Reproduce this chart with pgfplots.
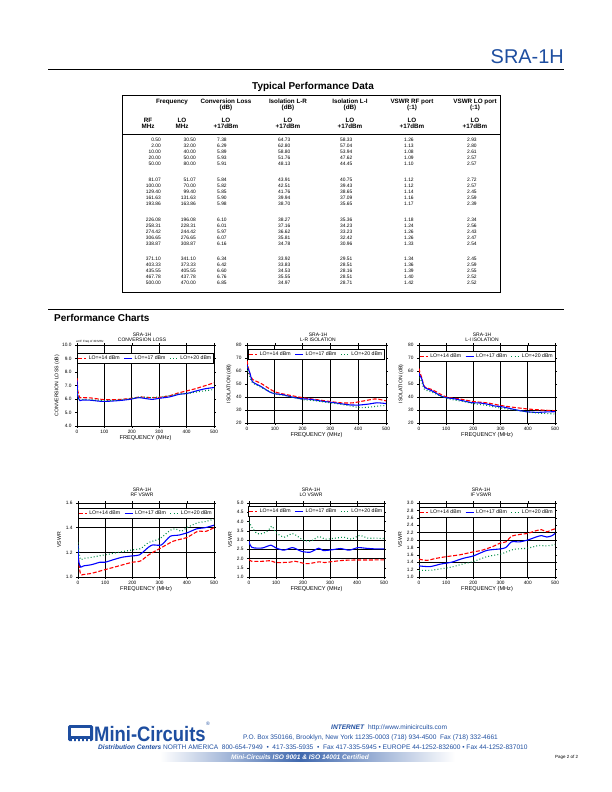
\documentclass[border=0pt]{standalone}
\usepackage{pgfplots}
\pgfplotsset{compat=1.18}
\usepackage{fontspec}
\setmainfont{Liberation Sans}
\definecolor{mcblue}{RGB}{30,78,160}
\definecolor{lored}{RGB}{255,0,0}
\definecolor{loblue}{RGB}{0,0,255}
\definecolor{logreen}{RGB}{0,140,70}
\newcommand{\fs}[1]{\fontsize{#1}{#1}\selectfont}
\newcommand{\trow}[8]{%
  \node[anchor=base east,inner sep=0] at (161bp,-#1bp) {#2};
  \node[anchor=base east,inner sep=0] at (196bp,-#1bp) {#3};
  \node[anchor=base west,inner sep=0] at (217bp,-#1bp) {#4};
  \node[anchor=base west,inner sep=0] at (278bp,-#1bp) {#5};
  \node[anchor=base west,inner sep=0] at (340bp,-#1bp) {#6};
  \node[anchor=base west,inner sep=0] at (404bp,-#1bp) {#7};
  \node[anchor=base west,inner sep=0] at (467bp,-#1bp) {#8};}
\pgfplotsset{
  mc/.style={
    scale only axis,
    anchor=north west,
    xmin=0,xmax=500,
    xtick={0,100,...,500},
    xmajorgrids=true, ymajorgrids=false,
    major grid style={black,line width=0.9pt},
    axis line style={black, line width=0.6pt},
    tick style={black, line width=0.4pt},
    tick align=outside,
    major tick length=2pt,
    /pgf/number format/assume math mode=true,
    tick label style={font=\fs{4.8}},
    xticklabel style={yshift=1pt},
    xlabel={FREQUENCY (MHz)},
    xlabel style={font=\fs{5.6}, yshift=5pt},
    ylabel style={font=\fs{5.2}, yshift=-4pt},
    extra y tick style={ymajorgrids=true, major tick length=0pt, yticklabels={}},
    legend style={at={(0.5,0.93)}, anchor=north, legend columns=3, font=\fs{5.2}, draw=black, line width=0.6pt, fill=white, inner sep=0.4pt, /tikz/every even column/.append style={column sep=2pt}},
    legend image code/.code={\draw[#1] (0pt,0pt) -- (8pt,0pt);},
    every axis plot/.append style={line width=1.1pt, smooth, tension=0.4},
  },
  r14/.style={lored, dash pattern=on 4pt off 1.8pt},
  b17/.style={loblue},
  g20/.style={logreen, dash pattern=on 0.9pt off 2.2pt},
  onedec/.style={yticklabel style={/pgf/number format/.cd, fixed, fixed zerofill, precision=1}},
}
\begin{document}
\begin{tikzpicture}
\fill[white] (0,0) rectangle (612bp,-792bp);
\path[use as bounding box] (0,0) rectangle (612bp,-792bp);
% header
\node[anchor=east, inner sep=0, text=mcblue] at (564bp,-57bp) {\fs{20}SRA-1H};
\draw[line width=0.9pt] (48bp,-69bp) -- (564bp,-69bp);
\node[inner sep=0] at (313bp,-87bp) {\fs{10}\bfseries Typical Performance Data};
% table
\draw[line width=0.8pt] (122bp,-95bp) rectangle (500bp,-292bp);
\draw[line width=0.4pt] (122bp,-134bp) -- (500bp,-134bp);
\begin{scope}[every node/.style={inner sep=0, font=\fs{6.3}\bfseries, align=center}]
\node at (172bp,-102bp) {Frequency};
\node at (226bp,-105bp) {Conversion Loss\\[-0.4pt](dB)};
\node at (288bp,-105bp) {Isolation L-R\\[-0.4pt](dB)};
\node at (350bp,-105bp) {Isolation L-I\\[-0.4pt](dB)};
\node at (412bp,-105bp) {VSWR RF port\\[-0.4pt](:1)};
\node at (475bp,-105bp) {VSWR LO port\\[-0.4pt](:1)};
\node at (148bp,-123bp) {RF\\[-0.4pt]MHz};
\node at (182bp,-123bp) {LO\\[-0.4pt]MHz};
\node at (226bp,-123bp) {LO\\[-0.4pt]+17dBm};
\node at (288bp,-123bp) {LO\\[-0.4pt]+17dBm};
\node at (350bp,-123bp) {LO\\[-0.4pt]+17dBm};
\node at (412bp,-123bp) {LO\\[-0.4pt]+17dBm};
\node at (475bp,-123bp) {LO\\[-0.4pt]+17dBm};
\end{scope}
\begin{scope}[every node/.style={font=\fs{4.9}}]
\trow{141.6}{0.50}{30.50}{7.38}{64.73}{58.33}{1.26}{2.93}
\trow{147.6}{2.00}{32.00}{6.29}{62.80}{57.04}{1.13}{2.80}
\trow{153.6}{10.00}{40.00}{5.89}{58.80}{53.94}{1.08}{2.61}
\trow{159.6}{20.00}{50.00}{5.93}{51.76}{47.62}{1.09}{2.57}
\trow{165.6}{50.00}{80.00}{5.91}{48.13}{44.45}{1.10}{2.57}
\trow{181.3}{81.07}{51.07}{5.84}{43.91}{40.75}{1.12}{2.72}
\trow{187.3}{100.00}{70.00}{5.82}{42.51}{39.43}{1.12}{2.57}
\trow{193.3}{129.40}{99.40}{5.85}{41.76}{38.65}{1.14}{2.45}
\trow{199.3}{161.63}{131.63}{5.90}{39.94}{37.09}{1.16}{2.59}
\trow{205.3}{193.86}{163.86}{5.98}{38.70}{35.65}{1.17}{2.39}
\trow{221.0}{226.08}{196.08}{6.10}{38.27}{35.36}{1.18}{2.34}
\trow{227.0}{258.31}{228.31}{6.01}{37.16}{34.23}{1.24}{2.56}
\trow{233.0}{274.42}{244.42}{5.97}{36.62}{33.23}{1.26}{2.43}
\trow{239.0}{306.65}{276.65}{6.07}{35.81}{32.42}{1.26}{2.47}
\trow{245.0}{338.87}{308.87}{6.16}{34.78}{30.96}{1.33}{2.54}
\trow{260.6}{371.10}{341.10}{6.34}{33.92}{29.51}{1.34}{2.45}
\trow{266.6}{403.33}{373.33}{6.42}{33.83}{28.51}{1.36}{2.59}
\trow{272.6}{435.55}{405.55}{6.60}{34.53}{28.16}{1.39}{2.55}
\trow{278.6}{467.78}{437.78}{6.76}{35.55}{28.51}{1.40}{2.52}
\trow{284.6}{500.00}{470.00}{6.85}{34.97}{28.71}{1.42}{2.52}
\end{scope}
% performance charts header
\draw[line width=0.9pt] (48bp,-309bp) -- (564bp,-309bp);
\node[anchor=west, inner sep=0] at (54bp,-318bp) {\fs{10}\bfseries Performance Charts};
% chart titles
\begin{scope}[every node/.style={inner sep=0, font=\fs{5}, align=center}]
\node at (142bp,-337bp) {SRA-1H\\[-0.3pt]CONVERSION LOSS};
\node at (318bp,-337bp) {SRA-1H\\[-0.3pt]L-R ISOLATION};
\node at (482bp,-337bp) {SRA-1H\\[-0.3pt]L-I ISOLATION};
\node at (142bp,-492bp) {SRA-1H\\[-0.3pt]RF VSWR};
\node at (311bp,-492bp) {SRA-1H\\[-0.3pt]LO VSWR};
\node at (481bp,-492bp) {SRA-1H\\[-0.3pt]IF VSWR};
\node[anchor=west] at (76bp,-341.5bp) {\fs{3}at IF Freq of 30 MHz};
\end{scope}
% ---- chart 1
\begin{axis}[mc, onedec, at={(77bp,-345bp)}, width=137bp, height=81bp,
  ymin=4, ymax=10, ytick={4,5,...,10}, ylabel={CONVERSION LOSS (dB)}, legend style={at={(0.5,0.9)}}]
\addplot[r14] coordinates {(0.5,7.55)(3,6.6)(10,6.12)(20,6.1)(50,6.08)(100,5.95)(150,5.96)(200,6.05)(230,6.15)(270,6.1)(300,6.12)(340,6.25)(370,6.45)(400,6.6)(430,6.75)(470,7.0)(500,7.2)};
\addlegendentry{LO=+14 dBm}
\addplot[b17] coordinates {(0.5,7.38)(2,6.29)(10,5.89)(20,5.93)(50,5.91)(81.07,5.84)(100,5.82)(129.4,5.85)(161.63,5.9)(193.86,5.98)(226.08,6.1)(258.31,6.01)(274.42,5.97)(306.65,6.07)(338.87,6.16)(371.1,6.34)(403.33,6.42)(435.55,6.6)(467.78,6.76)(500,6.85)};
\addlegendentry{LO=+17 dBm}
\addplot[g20] coordinates {(0.5,6.65)(3,6.2)(10,5.98)(20,5.97)(50,5.95)(100,5.88)(150,5.92)(200,6.05)(230,6.15)(270,6.1)(300,6.15)(340,6.25)(370,6.38)(400,6.4)(430,6.5)(470,6.62)(500,6.7)};
\addlegendentry{LO=+20 dBm}
\end{axis}
% ---- chart 2
\begin{axis}[mc, at={(247bp,-345bp)}, width=139bp, height=78bp,
  ymin=20, ymax=80, ytick={20,30,...,80}, ylabel={ISOLATION (dB)}, extra y ticks={30,40}, legend style={at={(0.5,0.95)}}]
\addplot[r14] coordinates {(0.5,68)(3,64)(10,58)(20,53.5)(50,50.5)(100,44)(150,41.5)(200,39.5)(250,38)(300,36.5)(340,35.5)(380,35.5)(420,37)(460,38.5)(480,38)(500,37)};
\addlegendentry{LO=+14 dBm}
\addplot[b17] coordinates {(0.5,64.73)(2,62.8)(10,58.8)(20,51.76)(50,48.13)(81.07,43.91)(100,42.51)(129.4,41.76)(161.63,39.94)(193.86,38.7)(226.08,38.27)(258.31,37.16)(274.42,36.62)(306.65,35.81)(338.87,34.78)(371.1,33.92)(403.33,33.83)(435.55,34.53)(467.78,35.55)(500,34.97)};
\addlegendentry{LO=+17 dBm}
\addplot[g20] coordinates {(0.5,63)(3,60)(10,56)(20,51)(50,47.5)(100,42.5)(150,40.5)(200,38)(250,37)(300,35.5)(350,34)(400,32)(430,32)(470,33)(500,33.5)};
\addlegendentry{LO=+20 dBm}
\end{axis}
% ---- chart 3
\begin{axis}[mc, at={(419bp,-345bp)}, width=136bp, height=78bp,
  ymin=20, ymax=80, ytick={20,30,...,80}, ylabel={ISOLATION (dB)}, extra y ticks={30,40}, legend style={at={(0.5,0.92)}}]
\addplot[r14] coordinates {(0.5,62)(3,59)(10,55)(20,48)(50,45.5)(100,40)(150,38.5)(200,36.5)(250,35.5)(300,33.5)(350,32)(400,30.8)(450,30)(500,29.5)};
\addlegendentry{LO=+14 dBm}
\addplot[b17] coordinates {(0.5,58.33)(2,57.04)(10,53.94)(20,47.62)(50,44.45)(81.07,40.75)(100,39.43)(129.4,38.65)(161.63,37.09)(193.86,35.65)(226.08,35.36)(258.31,34.23)(274.42,33.23)(306.65,32.42)(338.87,30.96)(371.1,29.51)(403.33,28.51)(435.55,28.16)(467.78,28.51)(500,28.71)};
\addlegendentry{LO=+17 dBm}
\addplot[g20] coordinates {(0.5,55)(3,54)(10,52)(20,46)(50,43.5)(100,39)(150,37)(200,35)(250,33.5)(300,31.5)(350,30)(400,28.5)(450,27.5)(500,27)};
\addlegendentry{LO=+20 dBm}
\end{axis}
% ---- chart 4
\begin{axis}[mc, onedec, at={(78bp,-503bp)}, width=136bp, height=74bp,
  ymin=1, ymax=1.6, ytick={1,1.2,1.4,1.6}, ylabel={VSWR}, extra y ticks={1.2,1.4}, legend style={at={(0.5,0.93)}}]
\addplot[r14] coordinates {(0.5,1.2)(5,1.08)(10,1.02)(20,1.02)(50,1.03)(100,1.06)(150,1.09)(200,1.12)(230,1.13)(260,1.18)(300,1.23)(350,1.29)(400,1.32)(440,1.37)(470,1.37)(500,1.4)};
\addlegendentry{LO=+14 dBm}
\addplot[b17] coordinates {(0.5,1.26)(2,1.13)(10,1.08)(20,1.09)(50,1.1)(81.07,1.12)(100,1.12)(129.4,1.14)(161.63,1.16)(193.86,1.17)(226.08,1.18)(258.31,1.24)(274.42,1.26)(306.65,1.26)(338.87,1.33)(371.1,1.34)(403.33,1.36)(435.55,1.39)(467.78,1.4)(500,1.42)};
\addlegendentry{LO=+17 dBm}
\addplot[g20] coordinates {(0.5,1.28)(5,1.18)(10,1.14)(20,1.15)(50,1.16)(100,1.18)(150,1.2)(200,1.22)(230,1.23)(260,1.28)(300,1.31)(340,1.38)(360,1.39)(380,1.37)(400,1.4)(440,1.44)(470,1.45)(500,1.47)};
\addlegendentry{LO=+20 dBm}
\end{axis}
% ---- chart 5
\begin{axis}[mc, onedec, at={(249bp,-503bp)}, width=135bp, height=74bp,
  ymin=1, ymax=5, ytick={1,1.5,...,5}, ylabel={VSWR}, extra y ticks={2,2.5,3,3.5}, legend style={at={(0.5,0.96)}}]
\addplot[r14] coordinates {(0.5,1.95)(10,1.85)(50,1.85)(80,1.88)(100,1.78)(150,1.8)(170,1.85)(200,1.75)(220,1.72)(260,1.82)(280,1.78)(300,1.82)(350,1.9)(400,1.92)(450,1.92)(500,1.93)};
\addlegendentry{LO=+14 dBm}
\addplot[b17] coordinates {(0.5,2.93)(2,2.8)(10,2.61)(20,2.57)(50,2.57)(81.07,2.72)(100,2.57)(129.4,2.45)(161.63,2.59)(193.86,2.39)(226.08,2.34)(258.31,2.56)(274.42,2.43)(306.65,2.47)(338.87,2.54)(371.1,2.45)(403.33,2.59)(435.55,2.55)(467.78,2.52)(500,2.52)};
\addlegendentry{LO=+17 dBm}
\addplot[g20] coordinates {(0.5,4.0)(10,3.7)(30,3.35)(50,3.35)(70,3.5)(85,3.75)(100,3.4)(130,3.15)(160,3.35)(180,3.2)(200,3.0)(230,2.95)(260,3.2)(280,3.05)(320,3.1)(350,3.15)(380,3.05)(410,3.25)(440,3.1)(470,3.1)(500,3.08)};
\addlegendentry{LO=+20 dBm}
\end{axis}
% ---- chart 6
\begin{axis}[mc, onedec, at={(419bp,-503bp)}, width=136bp, height=74bp,
  ymin=1, ymax=3, ytick={1,1.2,...,3}, ylabel={VSWR}, extra y ticks={1.4,2,2.2}, legend style={at={(0.5,0.94)}}]
\addplot[r14] coordinates {(0,1.48)(30,1.45)(60,1.5)(100,1.55)(150,1.6)(200,1.68)(230,1.72)(270,1.82)(300,1.92)(320,1.95)(340,2.1)(370,2.15)(400,2.18)(430,2.25)(450,2.28)(470,2.22)(490,2.28)(500,2.3)};
\addlegendentry{LO=+14 dBm}
\addplot[b17] coordinates {(0,1.3)(40,1.28)(80,1.35)(120,1.4)(160,1.5)(200,1.57)(250,1.72)(300,1.76)(320,1.8)(340,1.95)(370,1.95)(400,2.0)(430,2.08)(450,2.12)(470,2.08)(490,2.12)(500,2.18)};
\addlegendentry{LO=+17 dBm}
\addplot[g20] coordinates {(0,1.18)(40,1.18)(80,1.22)(120,1.27)(160,1.35)(200,1.42)(250,1.55)(300,1.62)(330,1.7)(350,1.75)(400,1.78)(440,1.85)(470,1.84)(500,1.88)};
\addlegendentry{LO=+20 dBm}
\end{axis}
% ---- footer
\fill[mcblue, rounded corners=1.5bp] (68bp,-725bp) rectangle (93bp,-741bp);
\fill[white] (71bp,-728bp) rectangle (90bp,-736bp);
\foreach \xa/\xb in {72/73.6,76/77.6,80/81.6,84/85.6,88/89.6} {\fill[white] (\xa bp,-739bp) rectangle (\xb bp,-741.5bp);}
\node[anchor=base west, inner sep=0, text=mcblue] at (94bp,-741bp) {\scalebox{0.88}[1]{\fs{21}\bfseries Mini-Circuits}};
\node[anchor=west, inner sep=0, text=mcblue] at (206bp,-724bp) {\fs{5}\textregistered};
\node[anchor=west, inner sep=0, text=mcblue] at (331bp,-727.5bp) {\fs{6.6}\textbf{\textit{INTERNET}}\ \ http://www.minicircuits.com};
\node[anchor=west, inner sep=0, text=mcblue] at (243bp,-737.5bp) {\fs{6.6}P.O. Box 350166, Brooklyn, New York 11235-0003 (718) 934-4500\ \ Fax (718) 332-4661};
\node[anchor=west, inner sep=0, text=mcblue] at (98bp,-747.5bp) {\fs{6.6}\textbf{\textit{Distribution Centers}} NORTH AMERICA\ \ 800-654-7949\ \ •\ \ 417-335-5935\ \ •\ \ Fax 417-335-5945 • EUROPE 44-1252-832600 • Fax 44-1252-837010};
\shade[left color=white, right color=mcblue!85] (160bp,-752.5bp) rectangle (300bp,-761.5bp);
\shade[left color=mcblue!85, right color=white] (300bp,-752.5bp) rectangle (455bp,-761.5bp);
\node[inner sep=0, text=white] at (300bp,-757bp) {\fs{6.6}\textbf{\textit{Mini-Circuits ISO 9001 \& ISO 14001 Certified}}};
\node[anchor=west, inner sep=0] at (555bp,-757bp) {\fs{4.5}Page 2 of 2};
\end{tikzpicture}
\end{document}
